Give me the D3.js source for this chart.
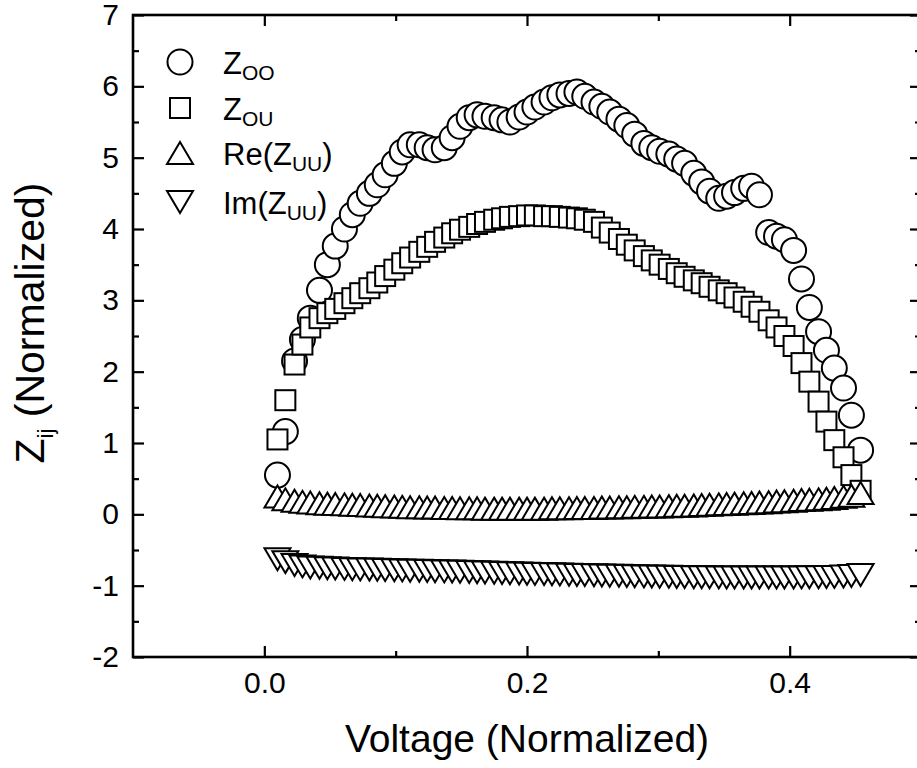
<!DOCTYPE html>
<html>
<head>
<meta charset="utf-8">
<script src="https://cdn.jsdelivr.net/npm/d3@7"></script>
<style>
  body { margin: 0; background: #fff; }
  svg { display: block; }
  text { font-family: Arial, "Liberation Sans", sans-serif; fill: #000; }
</style>
</head>
<body>
<svg id="chart" width="917" height="768"></svg>
<script>
// Normalized voltage sweep shared by all four impedance components
const voltage = [
  0.010, 0.016, 0.023, 0.029, 0.035, 0.042, 0.048, 0.054, 0.061, 0.067,
  0.073, 0.080, 0.086, 0.092, 0.099, 0.105, 0.111, 0.118, 0.124, 0.130,
  0.137, 0.143, 0.149, 0.156, 0.162, 0.168, 0.175, 0.181, 0.187, 0.194,
  0.200, 0.206, 0.213, 0.219, 0.225, 0.232, 0.238, 0.244, 0.251, 0.257,
  0.263, 0.270, 0.276, 0.282, 0.289, 0.295, 0.301, 0.308, 0.314, 0.320,
  0.327, 0.333, 0.339, 0.346, 0.352, 0.358, 0.365, 0.371, 0.377, 0.384,
  0.390, 0.396, 0.403, 0.409, 0.415, 0.422, 0.428, 0.434, 0.441, 0.447,
  0.454
];

const zOO = [
  0.55, 1.16, 2.15, 2.45, 2.75, 3.14, 3.50, 3.76, 4.00, 4.20,
  4.36, 4.50, 4.62, 4.76, 4.92, 5.08, 5.18, 5.18, 5.14, 5.11,
  5.14, 5.28, 5.44, 5.56, 5.60, 5.58, 5.56, 5.53, 5.50, 5.57,
  5.64, 5.71, 5.78, 5.84, 5.88, 5.90, 5.92, 5.86, 5.78, 5.72,
  5.64, 5.54, 5.45, 5.33, 5.20, 5.14, 5.09, 5.05, 4.98, 4.92,
  4.78, 4.66, 4.53, 4.43, 4.46, 4.51, 4.57, 4.60, 4.48, 3.95,
  3.90, 3.85, 3.70, 3.30, 2.90, 2.56, 2.30, 2.05, 1.77, 1.39,
  0.90
];

const zOU = [
  1.05, 1.60, 2.10, 2.38, 2.62, 2.75, 2.82, 2.88, 2.96, 3.03,
  3.10, 3.17, 3.25, 3.34, 3.43, 3.52, 3.60, 3.68, 3.75, 3.82,
  3.88, 3.94, 3.99, 4.03, 4.07, 4.10, 4.13, 4.15, 4.17, 4.18,
  4.19, 4.19, 4.18, 4.18, 4.17, 4.16, 4.15, 4.13, 4.10, 4.02,
  3.95, 3.86, 3.78, 3.70, 3.62, 3.56, 3.50, 3.44, 3.38, 3.33,
  3.28, 3.24, 3.19, 3.14, 3.10, 3.04, 2.98, 2.91, 2.84, 2.72,
  2.62, 2.50, 2.36, 2.12, 1.86, 1.58, 1.30, 1.04, 0.80, 0.55,
  0.33
];

const reZUU = [
  0.25, 0.21, 0.19, 0.175, 0.165, 0.155, 0.15, 0.145, 0.14, 0.135,
  0.13, 0.125, 0.12, 0.115, 0.11, 0.105, 0.10, 0.10, 0.095, 0.095,
  0.09, 0.09, 0.085, 0.085, 0.085, 0.08, 0.08, 0.08, 0.08, 0.08,
  0.08, 0.08, 0.08, 0.085, 0.085, 0.085, 0.09, 0.09, 0.09, 0.095,
  0.095, 0.10, 0.10, 0.105, 0.105, 0.11, 0.11, 0.115, 0.12, 0.12,
  0.125, 0.13, 0.135, 0.14, 0.145, 0.15, 0.155, 0.16, 0.165, 0.17,
  0.18, 0.185, 0.19, 0.20, 0.205, 0.21, 0.22, 0.23, 0.245, 0.26,
  0.30
];

const imZUU = [
  -0.63, -0.67, -0.71, -0.73, -0.745, -0.75, -0.755, -0.76, -0.765, -0.77,
  -0.772, -0.775, -0.778, -0.78, -0.783, -0.786, -0.79, -0.792, -0.795, -0.797,
  -0.80, -0.803, -0.806, -0.81, -0.813, -0.816, -0.82, -0.823, -0.826, -0.83,
  -0.832, -0.835, -0.838, -0.84, -0.843, -0.846, -0.85, -0.852, -0.855, -0.858,
  -0.86, -0.862, -0.865, -0.867, -0.87, -0.872, -0.874, -0.876, -0.878, -0.88,
  -0.881, -0.882, -0.883, -0.884, -0.885, -0.886, -0.886, -0.887, -0.887, -0.887,
  -0.887, -0.886, -0.885, -0.884, -0.883, -0.882, -0.88, -0.877, -0.873, -0.866,
  -0.85
];

const xMajorTicks = [0.0, 0.2, 0.4];
const xMinorTicks = [0.1, 0.3];
const yMajorTicks = [-2, -1, 0, 1, 2, 3, 4, 5, 6, 7];
const yMinorTicks = [-1.5, -0.5, 0.5, 1.5, 2.5, 3.5, 4.5, 5.5, 6.5];

const xTitle = "Voltage (Normalized)";
const yTitleMain = "Z", yTitleSub = "ij", yTitleRest = " (Normalized)";

// Marker shapes (outline only, white fill)
const marker = {
  circle: g => g.append("circle").attr("r", 12.5),
  square: g => g.append("rect").attr("x", -10).attr("y", -10).attr("width", 20).attr("height", 20),
  up: g => g.append("path").attr("d", "M0,-11L13,11L-13,11Z"),
  down: g => g.append("path").attr("d", "M0,11L13,-11L-13,-11Z")
};

const series = [
  { values: zOO, shape: "circle", label: ["Z", "OO", ""] },
  { values: zOU, shape: "square", label: ["Z", "OU", ""] },
  { values: reZUU, shape: "up", label: ["Re(Z", "UU", ")"] },
  { values: imZUU, shape: "down", label: ["Im(Z", "UU", ")"] }
];

const svg = d3.select("#chart");
const plotLeft = 133, plotRight = 921, plotTop = 15, plotBottom = 657;

const x = d3.scaleLinear().domain([-0.1, 0.5]).range([plotLeft, plotRight]);
const y = d3.scaleLinear().domain([-2, 7]).range([plotBottom, plotTop]);

const tickFont = 30;
const majorLen = 11, minorLen = 6;

// Bottom axis with labels
svg.append("g").attr("transform", `translate(0,${plotBottom})`)
  .call(d3.axisBottom(x).tickValues(xMajorTicks).tickSizeInner(-majorLen).tickSizeOuter(0)
    .tickPadding(15).tickFormat(d => d.toFixed(1)));
svg.append("g").attr("transform", `translate(0,${plotBottom})`)
  .call(d3.axisBottom(x).tickValues(xMinorTicks).tickSizeInner(-minorLen).tickSizeOuter(0).tickFormat(""));

// Top mirror axis
svg.append("g").attr("transform", `translate(0,${plotTop})`)
  .call(d3.axisTop(x).tickValues(xMajorTicks).tickSizeInner(-majorLen).tickSizeOuter(0).tickFormat(""));
svg.append("g").attr("transform", `translate(0,${plotTop})`)
  .call(d3.axisTop(x).tickValues(xMinorTicks).tickSizeInner(-minorLen).tickSizeOuter(0).tickFormat(""));

// Left axis with labels (plain hyphen for negatives)
svg.append("g").attr("transform", `translate(${plotLeft},0)`)
  .call(d3.axisLeft(y).tickValues(yMajorTicks).tickSizeInner(-majorLen).tickSizeOuter(0)
    .tickPadding(14).tickFormat(d => String(d)));
svg.append("g").attr("transform", `translate(${plotLeft},0)`)
  .call(d3.axisLeft(y).tickValues(yMinorTicks).tickSizeInner(-minorLen).tickSizeOuter(0).tickFormat(""));

// Right mirror axis
svg.append("g").attr("transform", `translate(${plotRight},0)`)
  .call(d3.axisRight(y).tickValues(yMajorTicks).tickSizeInner(-majorLen).tickSizeOuter(0).tickFormat(""));
svg.append("g").attr("transform", `translate(${plotRight},0)`)
  .call(d3.axisRight(y).tickValues(yMinorTicks).tickSizeInner(-minorLen).tickSizeOuter(0).tickFormat(""));

svg.selectAll(".domain").remove();
svg.selectAll(".tick line").attr("stroke", "#000").attr("stroke-width", 2.2);
svg.selectAll(".tick text").attr("font-size", tickFont)
  .attr("font-family", "Arial, 'Liberation Sans', sans-serif").attr("fill", "#000");

// Frame
svg.append("rect")
  .attr("x", plotLeft).attr("y", plotTop)
  .attr("width", plotRight - plotLeft).attr("height", plotBottom - plotTop)
  .attr("fill", "none").attr("stroke", "#000").attr("stroke-width", 2.6);

// Data markers, later series drawn on top
const plot = svg.append("g");
series.forEach(s => {
  const g = plot.append("g")
    .attr("fill", "#fff").attr("stroke", "#000").attr("stroke-width", 2);
  voltage.forEach((v, i) => {
    const m = g.append("g").attr("transform", `translate(${x(v)},${y(s.values[i])})`);
    marker[s.shape](m);
  });
});

// Legend
const legendY = [62, 108, 153, 202];
series.forEach((s, i) => {
  const m = svg.append("g")
    .attr("transform", `translate(180,${legendY[i]})`)
    .attr("fill", "#fff").attr("stroke", "#000").attr("stroke-width", 2);
  marker[s.shape](m);
  const t = svg.append("text")
    .attr("x", 223).attr("y", legendY[i] + 12)
    .attr("font-size", 31);
  t.append("tspan").text(s.label[0]);
  t.append("tspan").attr("font-size", 21).attr("dy", 6).text(s.label[1]);
  if (s.label[2]) t.append("tspan").attr("dy", -6).text(s.label[2]);
});

// Axis titles
svg.append("text")
  .attr("x", 527).attr("y", 752)
  .attr("text-anchor", "middle").attr("font-size", 39)
  .text(xTitle);

const yt = svg.append("text")
  .attr("transform", "translate(44,323) rotate(-90)")
  .attr("text-anchor", "middle").attr("font-size", 41);
yt.append("tspan").text(yTitleMain);
yt.append("tspan").attr("font-size", 22).attr("dy", 9).text(yTitleSub);
yt.append("tspan").attr("dy", -9).text(yTitleRest);
</script>
</body>
</html>
